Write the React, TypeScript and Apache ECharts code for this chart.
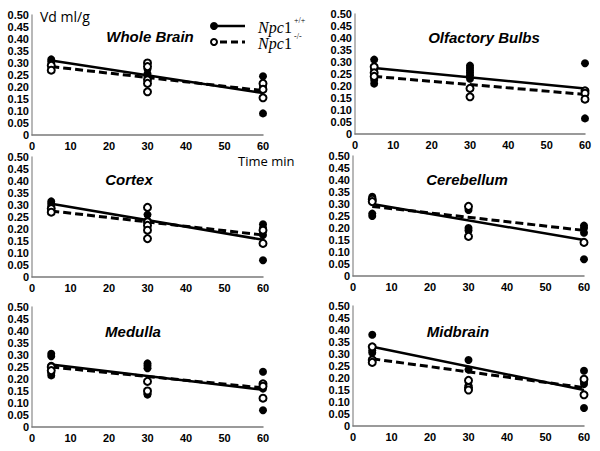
import React, { useEffect, useRef } from "react";
import * as echarts from "echarts";

// ---- data (Vd ml/g vs time min) ----
const panelNames = ["Whole Brain", "Olfactory Bulbs", "Cortex", "Cerebellum", "Medulla", "Midbrain"];

const wholeBrainWT = [[5, 0.315], [5, 0.305], [30, 0.275], [30, 0.255], [30, 0.245], [60, 0.245], [60, 0.2], [60, 0.09]];
const wholeBrainKO = [[5, 0.29], [5, 0.27], [30, 0.3], [30, 0.285], [30, 0.23], [30, 0.215], [30, 0.18], [60, 0.215], [60, 0.19], [60, 0.155]];
const wholeBrainWTFit = [[5, 0.31], [60, 0.175]];
const wholeBrainKOFit = [[5, 0.285], [60, 0.185]];

const olfactoryWT = [[5, 0.31], [5, 0.27], [5, 0.225], [5, 0.21], [30, 0.285], [30, 0.275], [30, 0.265], [30, 0.255], [30, 0.245], [30, 0.23], [60, 0.295], [60, 0.065]];
const olfactoryKO = [[5, 0.28], [5, 0.255], [5, 0.24], [30, 0.19], [30, 0.155], [60, 0.18], [60, 0.17], [60, 0.145]];
const olfactoryWTFit = [[5, 0.275], [60, 0.19]];
const olfactoryKOFit = [[5, 0.24], [60, 0.165]];

const cortexWT = [[5, 0.315], [5, 0.305], [5, 0.295], [30, 0.26], [30, 0.235], [30, 0.225], [60, 0.22], [60, 0.205], [60, 0.175], [60, 0.07]];
const cortexKO = [[5, 0.285], [5, 0.27], [30, 0.29], [30, 0.23], [30, 0.215], [30, 0.195], [30, 0.16], [60, 0.195], [60, 0.14]];
const cortexWTFit = [[5, 0.305], [60, 0.155]];
const cortexKOFit = [[5, 0.275], [60, 0.175]];

const cerebellumWT = [[5, 0.33], [5, 0.315], [5, 0.26], [5, 0.25], [30, 0.275], [30, 0.2], [30, 0.19], [60, 0.21], [60, 0.2], [60, 0.18], [60, 0.07]];
const cerebellumKO = [[5, 0.32], [5, 0.31], [30, 0.29], [30, 0.165], [60, 0.14]];
const cerebellumWTFit = [[5, 0.3], [60, 0.15]];
const cerebellumKOFit = [[5, 0.29], [60, 0.19]];

const medullaWT = [[5, 0.305], [5, 0.295], [5, 0.255], [5, 0.225], [5, 0.215], [30, 0.265], [30, 0.255], [30, 0.245], [30, 0.14], [30, 0.135], [60, 0.23], [60, 0.16], [60, 0.07]];
const medullaKO = [[5, 0.25], [5, 0.235], [30, 0.19], [30, 0.15], [60, 0.18], [60, 0.17], [60, 0.12]];
const medullaWTFit = [[5, 0.26], [60, 0.155]];
const medullaKOFit = [[5, 0.25], [60, 0.163]];

const midbrainWT = [[5, 0.38], [5, 0.315], [5, 0.305], [30, 0.275], [30, 0.235], [30, 0.17], [60, 0.23], [60, 0.185], [60, 0.175], [60, 0.075]];
const midbrainKO = [[5, 0.33], [5, 0.275], [5, 0.265], [30, 0.19], [30, 0.16], [30, 0.15], [60, 0.195], [60, 0.13]];
const midbrainWTFit = [[5, 0.33], [60, 0.15]];
const midbrainKOFit = [[5, 0.28], [60, 0.16]];

const wtPoints = [wholeBrainWT, olfactoryWT, cortexWT, cerebellumWT, medullaWT, midbrainWT];
const koPoints = [wholeBrainKO, olfactoryKO, cortexKO, cerebellumKO, medullaKO, midbrainKO];
const wtFits = [wholeBrainWTFit, olfactoryWTFit, cortexWTFit, cerebellumWTFit, medullaWTFit, midbrainWTFit];
const koFits = [wholeBrainKOFit, olfactoryKOFit, cortexKOFit, cerebellumKOFit, medullaKOFit, midbrainKOFit];

const xMin = 0, xMax = 60, xInterval = 10;
const yMin = 0, yMax = 0.5, yInterval = 0.05;

// ---- layout ----
const grids = [
  { left: 32, top: 15, width: 231, height: 120 },
  { left: 355, top: 14, width: 230, height: 120 },
  { left: 32, top: 157, width: 231, height: 120 },
  { left: 353, top: 156, width: 231, height: 120 },
  { left: 32, top: 307, width: 231, height: 120 },
  { left: 353, top: 306, width: 231, height: 120 },
];
const titlePos = [
  [150, 36], [484, 37], [129, 179], [467, 179], [133, 331], [458, 331],
];

export default function App() {
  const ref = useRef<HTMLDivElement>(null);
  useEffect(() => {
    if (!ref.current) return;
    const chart = echarts.init(ref.current, undefined, { renderer: "svg" });
    const labelFont = { fontFamily: "Liberation Sans, Arial, sans-serif", fontWeight: "bold" as const, fontSize: 11, color: "#000" };
    const xAxis: any[] = [];
    const yAxis: any[] = [];
    const series: any[] = [];
    grids.forEach((g, i) => {
      xAxis.push({
        gridIndex: i, type: "value", min: xMin, max: xMax, interval: xInterval,
        axisLine: { show: true, lineStyle: { color: "#7a7a7a", width: 1.5 } },
        axisTick: { show: false }, splitLine: { show: false },
        axisLabel: { ...labelFont, margin: 5 },
      });
      yAxis.push({
        gridIndex: i, type: "value", min: yMin, max: yMax, interval: yInterval,
        axisLine: { show: true, lineStyle: { color: "#a0a0a0", width: 1.5 } },
        axisTick: { show: false }, splitLine: { show: false },
        axisLabel: { ...labelFont, margin: 3, formatter: (v: number) => (v === 0 ? "0" : v.toFixed(2)) },
      });
      series.push({
        type: "line", xAxisIndex: i, yAxisIndex: i, data: wtFits[i], symbol: "none",
        lineStyle: { color: "#000", width: 2.5 }, z: 2,
      });
      series.push({
        type: "line", xAxisIndex: i, yAxisIndex: i, data: koFits[i], symbol: "none",
        lineStyle: { color: "#000", width: 3, type: [8, 4] }, z: 2,
      });
      series.push({
        type: "scatter", xAxisIndex: i, yAxisIndex: i, data: wtPoints[i], symbol: "circle", symbolSize: 8,
        itemStyle: { color: "#000", opacity: 1 }, z: 3,
      });
      series.push({
        type: "scatter", xAxisIndex: i, yAxisIndex: i, data: koPoints[i], symbol: "circle", symbolSize: 7,
        itemStyle: { color: "#fff", borderColor: "#000", borderWidth: 2, opacity: 1 }, z: 4,
      });
    });

    const titleGraphics = panelNames.map((name, i) => ({
      type: "text", x: titlePos[i][0], y: titlePos[i][1],
      style: {
        text: name, fontFamily: "Liberation Sans, Arial, sans-serif", fontWeight: "bold", fontStyle: "italic",
        fontSize: 15, fill: "#000", align: "center", verticalAlign: "middle",
      },
    }));

    const serif = "Liberation Serif, Times New Roman, serif";
    const legendText = (y: number, sup: string) => [
      { type: "text", x: 258, y, style: { text: "Npc", fontFamily: serif, fontStyle: "italic", fontSize: 16, fill: "#000", verticalAlign: "middle" } },
      { type: "text", x: 284, y, style: { text: "1", fontFamily: serif, fontSize: 16, fill: "#000", verticalAlign: "middle" } },
      { type: "text", x: 294, y: y - 7, style: { text: sup, fontFamily: serif, fontSize: 8, fill: "#000", verticalAlign: "middle" } },
    ];
    const graphic: any[] = [
      ...titleGraphics,
      { type: "text", x: 40, y: 16, style: { text: "Vd ml/g", fontFamily: "Open Sans, Liberation Sans, sans-serif", fontSize: 14, fill: "#000", verticalAlign: "middle" } },
      { type: "text", x: 238, y: 161, style: { text: "Time min", fontFamily: "Open Sans, Liberation Sans, sans-serif", fontSize: 13, fill: "#000", verticalAlign: "middle" } },
      // legend
      { type: "line", shape: { x1: 214, y1: 26, x2: 245, y2: 26 }, style: { stroke: "#000", lineWidth: 2.5 } },
      { type: "circle", shape: { cx: 214, cy: 26, r: 4 }, style: { fill: "#000" } },
      { type: "line", shape: { x1: 220, y1: 42, x2: 245, y2: 42 }, style: { stroke: "#000", lineWidth: 3, lineDash: [7, 4] } },
      { type: "circle", shape: { cx: 214, cy: 42, r: 3 }, style: { fill: "#fff", stroke: "#000", lineWidth: 2 } },
      ...legendText(27, "+/+"),
      ...legendText(43, "-/-"),
    ];

    chart.setOption({
      animation: false,
      backgroundColor: "#fff",
      grid: grids.map((g) => ({ ...g, containLabel: false })),
      xAxis,
      yAxis,
      series,
      graphic,
    });
    return () => chart.dispose();
  }, []);
  return <div ref={ref} style={{ position: "fixed", left: 0, top: 0, width: 600, height: 451 }} />;
}
